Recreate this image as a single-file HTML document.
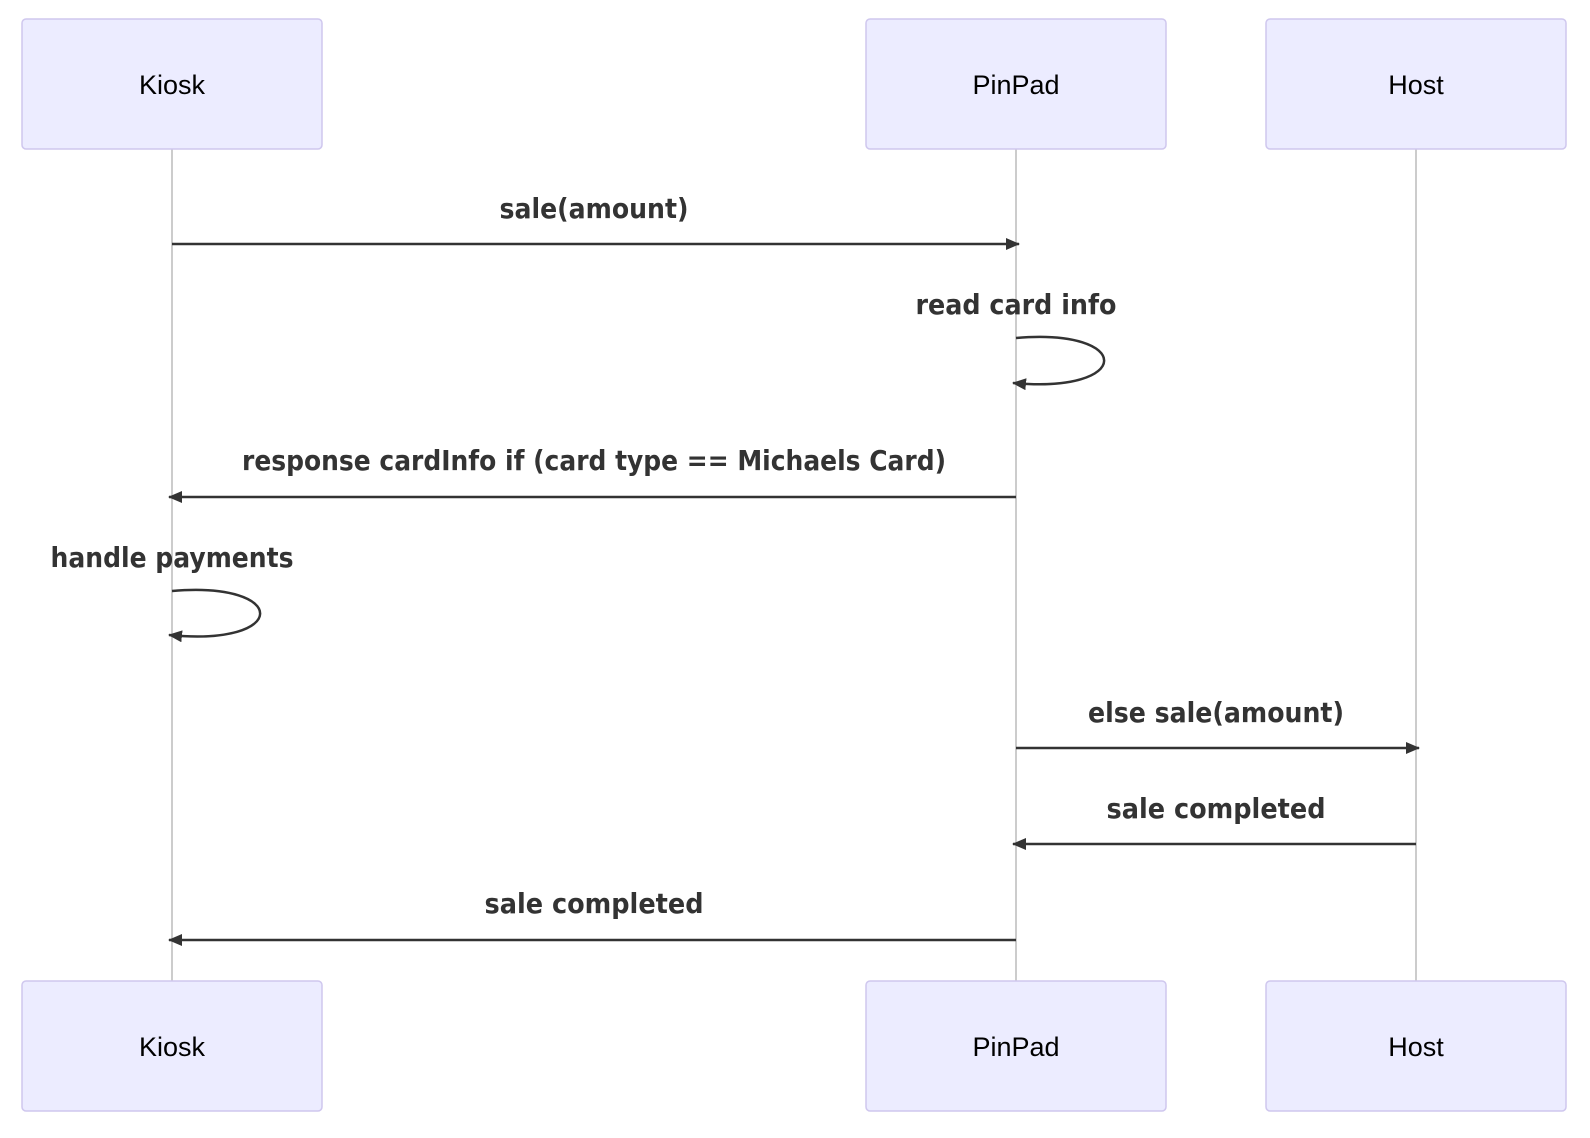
<!DOCTYPE html>
<html><head><meta charset="utf-8"><style>body{margin:0;background:#fff}svg{display:block}</style></head>
<body>
<svg width="1590" height="1138" viewBox="0 0 1590 1138" xmlns="http://www.w3.org/2000/svg">
<defs><marker id="a" viewBox="0 0 14 12" refX="13" refY="6" markerWidth="14" markerHeight="12" markerUnits="userSpaceOnUse" orient="auto"><path d="M0 0L14 6L0 12z" fill="#333"/></marker></defs>
<g stroke="#bbb" stroke-width="1.5">
<line x1="172" y1="149" x2="172" y2="981"/>
<line x1="1016" y1="149" x2="1016" y2="981"/>
<line x1="1416" y1="149" x2="1416" y2="981"/>
</g>
<g fill="#ECECFF" stroke="#CFC7EE" stroke-width="1.5">
<rect x="22" y="19" width="300" height="130" rx="4"/>
<rect x="866" y="19" width="300" height="130" rx="4"/>
<rect x="1266" y="19" width="300" height="130" rx="4"/>
<rect x="22" y="981" width="300" height="130" rx="4"/>
<rect x="866" y="981" width="300" height="130" rx="4"/>
<rect x="1266" y="981" width="300" height="130" rx="4"/>
</g>
<g font-family="Liberation Sans, sans-serif" font-size="27" text-anchor="middle" fill="#000">
<text x="172" y="94">Kiosk</text><text x="1016" y="94">PinPad</text><text x="1416" y="94">Host</text>
<text x="172" y="1056">Kiosk</text><text x="1016" y="1056">PinPad</text><text x="1416" y="1056">Host</text>
</g>
<g stroke="#333" stroke-width="2.5" fill="none" marker-end="url(#a)">
<line x1="172" y1="244" x2="1019" y2="244"/>
<path d="M1016 338C1134 328 1134 394 1013 383"/>
<line x1="1016" y1="497" x2="169" y2="497"/>
<path d="M172 591C290 581 290 647 169 635"/>
<line x1="1016" y1="748" x2="1419" y2="748"/>
<line x1="1416" y1="844" x2="1013" y2="844"/>
<line x1="1016" y1="940" x2="169" y2="940"/>
</g>
<g font-family="DejaVu Sans, sans-serif" font-weight="bold" font-size="28" fill="#333" text-anchor="middle">
<text x="594" y="218" textLength="189" lengthAdjust="spacingAndGlyphs">sale(amount)</text>
<text x="1016" y="314" textLength="201" lengthAdjust="spacingAndGlyphs">read card info</text>
<text x="594" y="470" textLength="704" lengthAdjust="spacingAndGlyphs">response cardInfo if (card type == Michaels Card)</text>
<text x="172" y="567" textLength="243" lengthAdjust="spacingAndGlyphs">handle payments</text>
<text x="1216" y="722" textLength="256" lengthAdjust="spacingAndGlyphs">else sale(amount)</text>
<text x="1216" y="818" textLength="219" lengthAdjust="spacingAndGlyphs">sale completed</text>
<text x="594" y="913" textLength="219" lengthAdjust="spacingAndGlyphs">sale completed</text>
</g>
</svg>
</body></html>
